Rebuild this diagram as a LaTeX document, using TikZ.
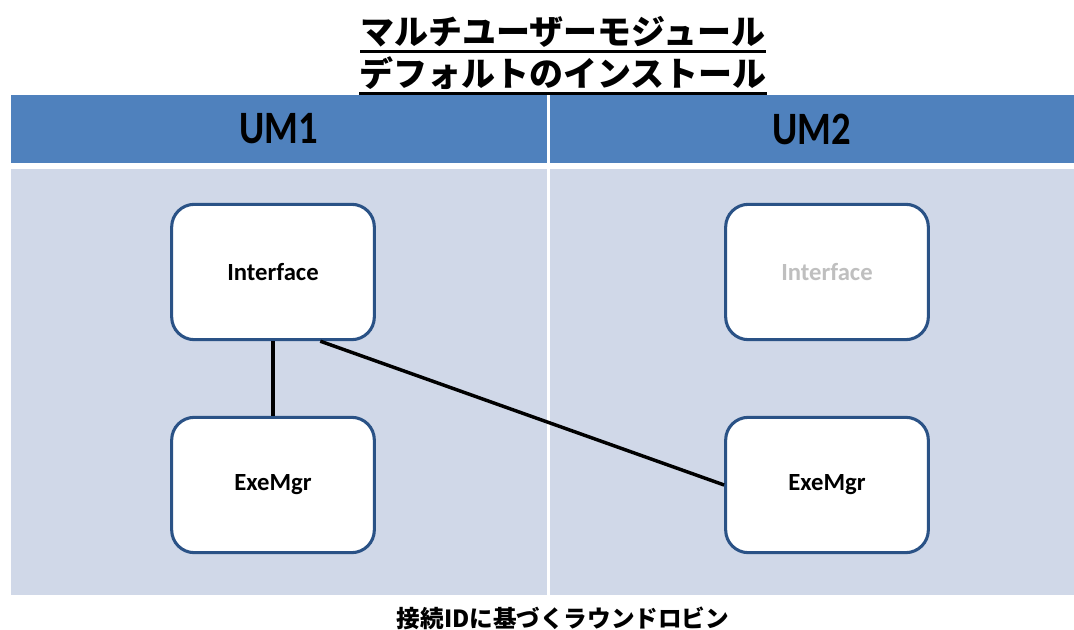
\documentclass[tikz,border=0pt]{standalone}
\usepackage{fontspec}
\setmainfont{Carlito}
\newfontfamily\cjk{Noto Sans CJK JP}
\usetikzlibrary{calc}
\definecolor{hdrblue}{HTML}{4F81BD}
\definecolor{bodyblue}{HTML}{D0D8E8}
\definecolor{boxline}{HTML}{2A5286}
\definecolor{fadetext}{HTML}{BFBFBF}
\tikzset{
  hdrcell/.style={fill=hdrblue, minimum width=402pt, minimum height=51pt, inner sep=0pt, font=\fontsize{29}{30}\selectfont\bfseries},
  bodycell/.style={fill=bodyblue, minimum width=402pt, minimum height=318.75pt, inner sep=0pt},
  compbox/.style={draw=boxline, line width=2.3pt, fill=white, rounded corners=17pt, minimum width=152pt, minimum height=101.5pt, inner sep=0pt, font=\fontsize{18.5}{20}\selectfont\bfseries},
  titletext/.style={inner sep=0pt, font=\cjk\fontsize{25.5}{27}\selectfont\bfseries},
  uline/.style={line width=2pt},
  link/.style={line width=2.6pt}
}
\begin{document}
\begin{tikzpicture}[x=0.75pt, y=-0.75pt]
\useasboundingbox (0,0) rectangle (1074,630);
% header cells
\node[hdrcell, minimum width=402pt] (um1) at (278.5,129) {\scalebox{1}[1.2]{UM1}};
\node[hdrcell, minimum width=393.75pt] (um2) at (812,129) {\scalebox{1}[1.2]{UM2}};
% body cells
\node[bodycell, minimum width=402pt] (c1) at (278.5,382) {};
\node[bodycell, minimum width=393.75pt] (c2) at (812,382) {};
% title
\node[titletext] (t1) at (563,32) {マルチユーザーモジュール};
\node[titletext] (t2) at (563,73) {デフォルトのインストール};
\draw[uline] ($(t1.south west)+(0,4)$) -- ($(t1.south east)+(0,4)$);
\draw[uline] ($(t2.south west)+(0,4)$) -- ($(t2.south east)+(0,4)$);
% boxes
\node[compbox] (if1) at (273,272) {Interface};
\node[compbox] (em1) at (273,485) {ExeMgr};
\node[compbox, text=fadetext] (if2) at (827,272) {Interface};
\node[compbox] (em2) at (827,485) {ExeMgr};
% connectors
\draw[link] (if1.south) -- (em1.north);
\draw[link] ($(if1.south)!0.46!(if1.south east)$) -- (em2.west);
% caption
\node[inner sep=0pt, font=\cjk\fontsize{17.7}{19}\selectfont\bfseries] (cap) at (563,618) {接続IDに基づくラウンドロビン};
\end{tikzpicture}
\end{document}
